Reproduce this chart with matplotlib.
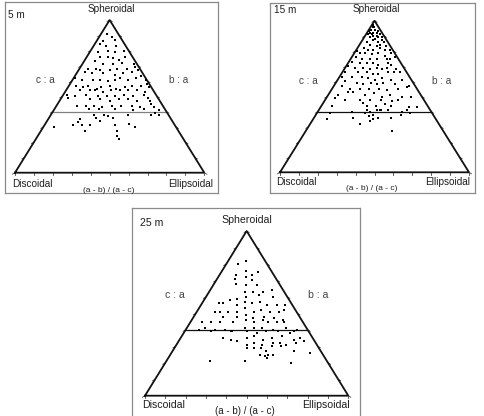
import matplotlib
matplotlib.use("Agg")
import matplotlib.pyplot as plt
import numpy as np

# ---------------- data: c/a (height) and (a-b)/(a-c) (position across) ----------------
p5_ca = [.91,.89,.86,.87,.84,.83,.83,.79,.80,.79,.80,.76,.76,.75,.74,.76,.73,.71,.71,.72,
         .71,.68,.68,.67,.67,.68,.68,.69,.66,.65,.65,.64,.65,.66,.67,.62,.61,.61,.61,.60,
         .61,.62,.61,.62,.63,.61,.57,.56,.57,.55,.56,.57,.55,.56,.57,.57,.56,.58,.54,.54,
         .54,.53,.54,.54,.54,.54,.53,.51,.50,.51,.50,.50,.50,.51,.50,.51,.49,.49,.48,.48,
         .47,.48,.48,.47,.47,.44,.44,.44,.43,.44,.44,.44,.43,.45,.43,.42,.42,.42,.41,.42,
         .41,.38,.38,.37,.38,.38,.39,.38,.35,.36,.36,.33,.31,.34,.32,.30,.31,.31,.31,.31,
         .30,.27,.27,.24,.22]
p5_abac = [.37,.59,.26,.72,.19,.39,.71,.21,.46,.64,.89,.29,.47,.58,.68,.83,.22,.38,.57,.73,
           .94,.14,.28,.34,.50,.62,.78,.94,.12,.23,.40,.58,.70,.84,.96,.02,.12,.28,.37,.48,
           .57,.64,.75,.87,.95,.99,.09,.18,.24,.35,.40,.50,.58,.69,.77,.88,.97,.97,.16,.28,
           .33,.43,.52,.62,.71,.81,.90,.04,.13,.25,.38,.47,.56,.65,.75,.87,.90,.07,.30,.40,
           .50,.59,.69,.77,.90,.19,.28,.35,.43,.52,.61,.71,.78,.90,.91,.31,.40,.55,.71,.81,
           .94,.37,.45,.49,.66,.85,.89,.92,.26,.39,.53,.25,.29,.42,.65,.08,.22,.29,.35,.54,
           .69,.32,.55,.55,.56]

p15_ca = [.97,.94,.94,.92,.92,.92,.91,.91,.90,.91,.89,.88,.89,.89,.87,.86,.86,.86,.84,.83,
          .84,.83,.82,.81,.81,.82,.81,.81,.80,.79,.79,.78,.79,.77,.79,.76,.75,.75,.75,.75,
          .75,.76,.73,.72,.72,.72,.71,.72,.71,.70,.69,.69,.68,.69,.68,.69,.68,.66,.66,.66,
          .65,.65,.66,.66,.66,.63,.63,.63,.62,.61,.62,.61,.61,.60,.59,.58,.59,.58,.59,.58,
          .57,.57,.55,.55,.55,.55,.54,.55,.56,.51,.53,.53,.51,.52,.50,.51,.50,.50,.49,.48,
          .48,.48,.48,.47,.48,.44,.46,.44,.44,.45,.44,.43,.43,.40,.41,.40,.41,.41,.41,.41,
          .40,.41,.39,.39,.38,.38,.39,.35,.36,.37,.35,.36,.36,.32,.34,.27,.96,.96,.93,.93,
          .90,.87]
p15_abac = [.28,.20,.55,.17,.42,.66,.11,.33,.63,.85,.27,.52,.69,.88,.45,.20,.65,.85,.34,.57,
            .69,.85,.18,.33,.47,.66,.79,.93,.03,.14,.27,.43,.59,.75,.92,.10,.23,.40,.55,.76,
            .82,.95,.05,.23,.35,.48,.57,.76,.81,.04,.17,.31,.43,.54,.62,.71,.86,.04,.25,.38,
            .48,.56,.71,.80,.89,.03,.18,.32,.41,.51,.60,.73,.87,.11,.27,.36,.46,.53,.61,.76,
            .92,.10,.21,.33,.43,.55,.64,.78,.89,.11,.20,.26,.40,.49,.58,.67,.79,.89,.09,.20,
            .35,.45,.57,.67,.74,.10,.39,.43,.51,.60,.66,.82,.89,.30,.43,.46,.52,.55,.56,.62,
            .74,.79,.11,.42,.49,.73,.81,.11,.32,.45,.49,.53,.64,.39,.46,.63,.30,.48,.10,.77,
            .40,.81]

p25_ca = [.80,.82,.73,.76,.73,.75,.71,.68,.72,.70,.67,.67,.58,.59,.63,.60,.63,.61,.63,.64,
          .60,.56,.56,.55,.57,.56,.57,.55,.55,.55,.51,.51,.51,.51,.53,.51,.52,.51,.51,.52,
          .48,.48,.49,.47,.48,.47,.46,.45,.45,.45,.45,.46,.45,.46,.45,.45,.45,.40,.41,.40,
          .40,.39,.41,.41,.41,.40,.41,.40,.39,.39,.39,.38,.39,.39,.38,.39,.35,.34,.35,.36,
          .34,.35,.36,.34,.35,.33,.33,.31,.32,.31,.32,.32,.31,.32,.29,.29,.29,.30,.30,.27,
          .25,.24,.25,.25,.27,.26,.23,.21,.21,.20]
p25_abac = [.29,.47,.30,.49,.59,.73,.30,.34,.48,.58,.65,.49,.31,.38,.48,.49,.59,.65,.72,.84,
            .83,.19,.24,.39,.48,.56,.65,.72,.83,.92,.18,.23,.31,.40,.48,.57,.65,.73,.82,.88,
            .28,.41,.49,.56,.66,.75,.83,.10,.18,.26,.38,.49,.57,.65,.69,.77,.83,.11,.15,.24,
            .32,.37,.49,.56,.63,.72,.83,.91,.21,.38,.50,.58,.66,.75,.84,.88,.32,.38,.50,.56,
            .62,.69,.77,.85,.90,.92,.43,.50,.55,.61,.69,.74,.78,.86,.50,.55,.60,.68,.74,.63,
            .59,.62,.64,.67,.82,.92,.63,.27,.49,.77]

panel_labels = ["5 m", "15 m", "25 m"]
apex_label = "Spheroidal"
left_label = "Discoidal"
right_label = "Ellipsoidal"
base_label = "(a - b) / (a - c)"
left_side_label = "c : a"
right_side_label = "b : a"
ca_limit = 0.4
tick_vals = np.round(np.arange(0, 1.01, 0.1), 2)

plt.rcParams['font.family'] = ['Liberation Sans', 'DejaVu Sans']

W, H = 484, 416
fig = plt.figure(figsize=(W / 100, H / 100), dpi=100)
TXT = '#1e1e1e'


def panel(frame, tri, ca, abac, label, fs, base_fs, line_color, tpos):
    x0, y0, x1, y1 = frame
    bl, br, by, ay = tri
    tw, th = br - bl, by - ay
    ax = fig.add_axes([x0 / W, 1 - y1 / H, (x1 - x0) / W, (y1 - y0) / H])
    ax.set_xlim((x0 - bl) / tw, (x1 - bl) / tw)
    ax.set_ylim((by - y1) / th, (by - y0) / th)
    ax.set_xticks([]); ax.set_yticks([])
    for s in ax.spines.values():
        s.set_color('#8a8a8a'); s.set_linewidth(0.9)

    def d(px, py):
        return (px - bl) / tw, (by - py) / th

    # triangle
    ax.plot([0, 0.5, 1, 0], [0, 1, 0, 0], color='#111111', lw=1.3,
            solid_joinstyle='miter', zorder=3)
    # ticks
    tl = 2.5
    for t in tick_vals:
        ax.plot([t, t], [0, -tl / th], color='#444', lw=0.6)
        ax.plot([t / 2, t / 2 - tl / tw], [t, t - 0.6 * tl / th], color='#444', lw=0.6)
        ax.plot([1 - t / 2, 1 - t / 2 + tl / tw], [t, t - 0.6 * tl / th], color='#444', lw=0.6)
    # c/a = 0.4 line
    ax.plot([ca_limit / 2, 1 - ca_limit / 2], [ca_limit, ca_limit], color=line_color,
            lw=0.9, zorder=2)
    # points
    ca = np.asarray(ca); r = np.asarray(abac)
    u = 0.5 + (r - 0.5) * (1 - ca)
    ax.scatter(u, ca, s=4.5, marker='s', color='black', linewidths=0, zorder=4)

    ax.text(*d(*tpos['lab']), label, fontsize=fs, ha='left', va='center', color=TXT)
    ax.text(*d(*tpos['apex']), apex_label, fontsize=fs, ha='center', va='center', color=TXT)
    ax.text(*d(*tpos['ca']), left_side_label, fontsize=fs, ha='center', va='center', color='#444')
    ax.text(*d(*tpos['ba']), right_side_label, fontsize=fs, ha='center', va='center', color='#444')
    ax.text(*d(*tpos['disc']), left_label, fontsize=fs, ha='left', va='center', color=TXT)
    ax.text(*d(*tpos['ell']), right_label, fontsize=fs, ha='right', va='center', color=TXT)
    ax.text(*d(*tpos['base']), base_label, fontsize=base_fs, ha='center', va='center', color=TXT)
    return ax


panel((5, 2, 218, 193), (15, 204.3, 172.7, 20), p5_ca, p5_abac, panel_labels[0], 7.2, 6.0, '#808080',
      dict(lab=(8, 15), apex=(111, 9), ca=(45, 80), ba=(179, 80), disc=(12, 184),
           ell=(213, 184), base=(109, 190.5)))
panel((270, 3, 475, 193), (280, 469, 172.3, 20.7), p15_ca, p15_abac, panel_labels[1], 7.2, 6.0, '#111111',
      dict(lab=(274, 10), apex=(376, 9), ca=(308, 81), ba=(442, 81), disc=(276, 182),
           ell=(470, 182), base=(372, 188)))
panel((132, 208, 360, 420), (145, 348.3, 395.7, 231), p25_ca, p25_abac, panel_labels[2], 7.6, 7.0, '#111111',
      dict(lab=(140, 223), apex=(246.7, 220), ca=(175, 295), ba=(318, 295), disc=(142, 405),
           ell=(350, 405), base=(245, 411.5)))

fig.savefig("out.png", dpi=100)
